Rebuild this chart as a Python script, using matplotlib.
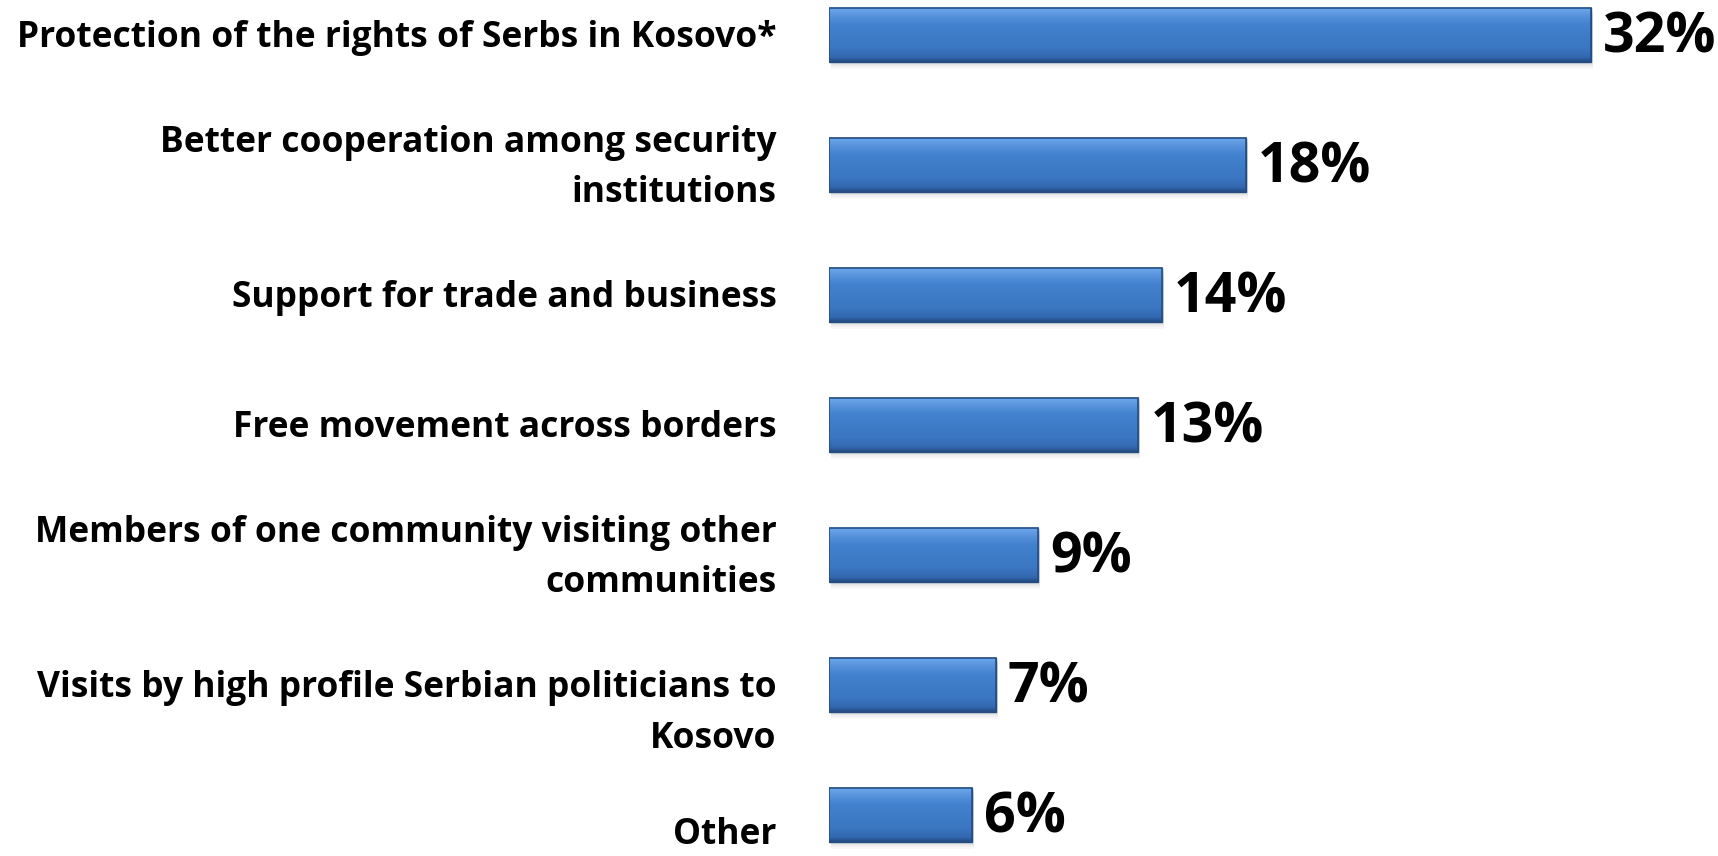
import numpy as np
import matplotlib.pyplot as plt
import matplotlib.transforms as mtransforms
from matplotlib.colors import LinearSegmentedColormap

# Data
labels = [
    "Protection of the rights of Serbs in Kosovo*",
    "Better cooperation among security\ninstitutions",
    "Support for trade and business",
    "Free movement across borders",
    "Members of one community visiting other\ncommunities",
    "\nVisits by high profile Serbian politicians to\nKosovo",
    "\nOther",
]
values = [32, 17.5, 14, 13, 8.8, 7, 6]

plt.rcParams["font.family"] = ["Open Sans", "DejaVu Sans"]

fig = plt.figure(figsize=(17.18, 8.56), dpi=100)
ax = fig.add_axes([829 / 1718, 0, 1 - 829 / 1718, 1])

y = np.arange(len(values))
bar_h = 0.41

# gradient for the bevelled look
grad_cmap = LinearSegmentedColormap.from_list(
    "bevel",
    [(0.0, "#6CA8EE"), (0.12, "#5A95DD"), (0.3, "#4382CF"),
     (0.75, "#3A76C1"), (0.92, "#3267AE"), (1.0, "#23497F")],
)
grad = np.linspace(0, 1, 100).reshape(-1, 1)

# soft shadow
for dy, a in [(0, 0.10), (2, 0.08), (4, 0.05)]:
    tr = mtransforms.offset_copy(ax.transData, fig=fig, x=2, y=-3 - dy, units="dots")
    ax.barh(y, values, height=bar_h, color="#808080", alpha=a,
            transform=tr, zorder=1, linewidth=0)

bars = ax.barh(y, values, height=bar_h, color="#3C78C3",
               edgecolor="#1F4775", linewidth=1.0, zorder=2)

for b in bars:
    x0, y0 = b.get_x(), b.get_y()
    w, h = b.get_width(), b.get_height()
    im = ax.imshow(grad, cmap=grad_cmap, aspect="auto",
                   extent=[x0, x0 + w, y0 + h, y0], zorder=3,
                   interpolation="bicubic")
    im.set_clip_path(b)
    # thin dark outline on top of gradient
    ax.barh(b.get_y() + h / 2, w, height=h, left=x0, fill=False,
            edgecolor="#244F85", linewidth=1.2, zorder=4)

# text sits a few pixels lower than the bar centre
txt_tr = mtransforms.offset_copy(ax.transData, fig=fig, x=0, y=-3, units="dots")
# last label hugs the bottom edge, nudge it up so it is not clipped
last_tr = mtransforms.offset_copy(ax.transData, fig=fig, x=0, y=5, units="dots")

for yi, v in zip(y, values):
    ax.text(v + 0.5, yi, f"{v:.0f}%", va="center", ha="left",
            fontsize=40, fontweight="bold", color="black", zorder=5,
            transform=txt_tr)

for yi, lab in zip(y, labels):
    tr = last_tr if yi == len(labels) - 1 else txt_tr
    ax.text(-2.2, yi, lab, va="center", ha="right", fontsize=25.5,
            fontweight="bold", color="black", linespacing=1.55,
            clip_on=False, transform=tr)

ax.set_xlim(0, 37.35)
ax.set_ylim((856 - 35) / 130, -35 / 130)
ax.axis("off")

fig.savefig("out.png", dpi=100)
